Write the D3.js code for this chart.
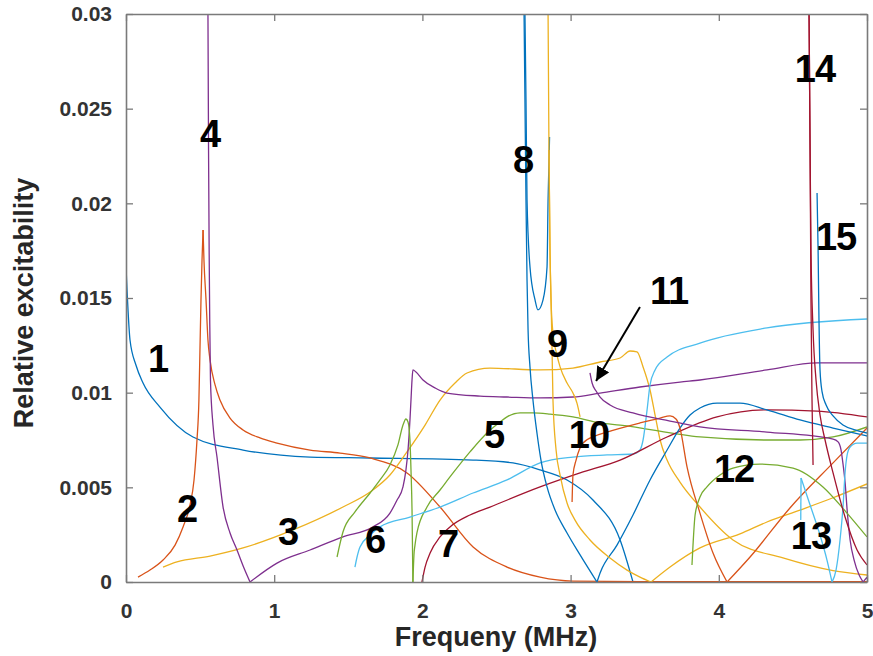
<!DOCTYPE html>
<html><head><meta charset="utf-8">
<script src="https://cdn.jsdelivr.net/npm/d3@7"></script>
<style>
html,body{margin:0;padding:0;background:#fff;}
svg{display:block;font-family:"Liberation Sans",Arial,sans-serif;}
</style></head>
<body><svg id="chart" width="873" height="656"></svg>
<script>
// ---------- data (x in MHz, y relative excitability) ----------
const xTicks = [0,1,2,3,4,5];
const xTickLabels = ["0","1","2","3","4","5"];
const yTicks = [0,0.005,0.01,0.015,0.02,0.025,0.03];
const yTickLabels = ["0","0.005","0.01","0.015","0.02","0.025","0.03"];

const mode1 = [[0,0.01664],[0.007,0.01542],[0.027,0.01278],[0.067,0.01146],[0.115,0.01051],[0.229,0.00924],[0.452,0.00766],[0.790,0.00697],[1.242,0.00660],[1.647,0.00655],[2.342,0.00644],[2.611,0.00629],[2.794,0.00592],[2.976,0.00539],[3.151,0.00433],[3.334,0.00222],[3.421,0]];
const mode2a = [[0.081,0.00026],[0.162,0.00063],[0.250,0.00116],[0.331,0.00195],[0.385,0.00291],[0.432,0.00407],[0.459,0.00539],[0.479,0.00750],[0.492,0.00961],[0.499,0.01225],[0.506,0.01490],[0.513,0.01701],[0.520,0.01859]];
const mode2b = [[0.520,0.01859],[0.526,0.01701],[0.540,0.01490],[0.553,0.01278],[0.567,0.01173],[0.601,0.01041],[0.634,0.00961],[0.702,0.00866],[0.790,0.00803],[0.904,0.00761],[1.019,0.00734],[1.242,0.00697],[1.444,0.00681],[1.647,0.00655],[1.896,0.00576],[2.119,0.00396],[2.342,0.00185],[2.571,0.00079],[2.794,0.00026],[3.016,0.00005],[3.468,0.00002],[5.0,0.00002]];
const mode3 = [[0.250,0.00079],[0.344,0.00106],[0.567,0.00137],[0.790,0.00180],[1.127,0.00275],[1.464,0.00396],[1.647,0.00475],[1.781,0.00565],[1.896,0.00687],[2.018,0.00829],[2.119,0.00961],[2.220,0.01051],[2.301,0.01104],[2.456,0.01130],[2.794,0.01120],[3.016,0.01130],[3.199,0.01162],[3.334,0.01183],[3.401,0.01220],[3.448,0.01215],[3.489,0.01136],[3.536,0.01014],[3.570,0.00882],[3.604,0.00750],[3.651,0.00644],[3.738,0.00528],[3.873,0.00396],[4.096,0.00222],[4.433,0.00127],[4.771,0.00060],[5.0,0.00037]];
const mode4a = [[0.553,0.03],[0.557,0.02282],[0.561,0.01754],[0.565,0.01384],[0.570,0.01067],[0.587,0.00829],[0.614,0.00660],[0.655,0.00396],[0.702,0.00259],[0.749,0.00169],[0.796,0.00074],[0.837,0]];
const mode4b = [[0.837,0],[1.019,0.00100],[1.242,0.00169],[1.464,0.00238],[1.667,0.00291],[1.781,0.00364],[1.829,0.00433],[1.869,0.00502],[1.889,0.00592],[1.903,0.00697],[1.916,0.00856],[1.923,0.00961],[1.930,0.01067],[1.936,0.01120],[1.957,0.01109],[2.004,0.01067],[2.085,0.01025],[2.166,0.00998],[2.389,0.00982],[2.571,0.00977],[2.794,0.00972],[3.016,0.00977],[3.199,0.00998],[3.468,0.01030],[3.738,0.01056],[3.873,0.01067],[4.325,0.01120],[4.663,0.01157],[5.0,0.01157]];
const mode5a = [[1.424,0.00132],[1.464,0.00264],[1.545,0.00370],[1.647,0.00470],[1.714,0.00539],[1.781,0.00618],[1.835,0.00724],[1.869,0.00829],[1.889,0.00861],[1.903,0.00845],[1.916,0.00750],[1.923,0.00592],[1.930,0.00380],[1.936,0]];
const mode5b = [[1.936,0],[1.943,0.00143],[1.950,0.00195],[1.963,0.00259],[2.031,0.00396],[2.119,0.00486],[2.207,0.00576],[2.321,0.00687],[2.436,0.00787],[2.524,0.00845],[2.571,0.00872],[2.659,0.00893],[2.746,0.00893],[2.861,0.00887],[3.016,0.00872],[3.199,0.00840],[3.334,0.00829],[3.873,0.00766],[4.325,0.00750],[4.548,0.00750],[4.771,0.00766],[5.0,0.00819]];
const mode6 = [[1.545,0.00079],[1.559,0.00132],[1.579,0.00185],[1.647,0.00248],[1.714,0.00291],[1.916,0.00343],[2.119,0.00396],[2.342,0.00470],[2.571,0.00539],[2.794,0.00629],[3.016,0.00660],[3.246,0.00671],[3.421,0.00676],[3.468,0.00697],[3.489,0.00750],[3.516,0.00909],[3.536,0.01041],[3.570,0.01120],[3.651,0.01188],[3.873,0.01262],[4.325,0.01342],[5.0,0.01389]];
const mode7 = [[1.997,0],[2.018,0.00079],[2.052,0.00153],[2.119,0.00238],[2.186,0.00291],[2.321,0.00354],[2.456,0.00396],[2.794,0.00502],[3.064,0.00576],[3.334,0.00644],[3.651,0.00766],[3.988,0.00872],[4.325,0.00909],[4.663,0.00903],[5.0,0.00872]];
const mode8a = [[2.686,0.03],[2.692,0.02546],[2.699,0.02018],[2.706,0.01595],[2.713,0.01331],[2.726,0.01136],[2.746,0.00961],[2.773,0.00787],[2.800,0.00644],[2.841,0.00502],[2.895,0.00380],[2.976,0.00259],[3.064,0.00143],[3.178,0]];
const mode8b = [[3.178,0],[3.199,0.00048],[3.313,0.00195],[3.421,0.00354],[3.536,0.00539],[3.651,0.00697],[3.738,0.00813],[3.806,0.00882],[3.873,0.00919],[3.988,0.00945],[4.143,0.00945],[4.325,0.00909],[4.548,0.00856],[4.771,0.00813],[5.0,0.00771]];
const mode8u = [[2.692,0.03],[2.699,0.02546],[2.706,0.02018],[2.726,0.01664],[2.760,0.01490],[2.780,0.01437],[2.814,0.01490],[2.841,0.01664],[2.848,0.02018],[2.858,0.02350]];
const mode9a = [[2.848,0.03],[2.854,0.02282],[2.861,0.01754],[2.868,0.01490],[2.875,0.01225],[2.881,0.00961],[2.902,0.00697],[2.929,0.00565],[2.976,0.00417],[3.030,0.00327],[3.131,0.00222],[3.266,0.00127],[3.381,0.00063],[3.468,0.00026],[3.543,0]];
const mode9b = [[3.543,0],[3.671,0.00079],[3.873,0.00180],[4.143,0.00254],[4.325,0.00317],[4.548,0.00380],[4.771,0.00445],[5.0,0.00518]];
const mode9c = [[2.854,0.02282],[2.861,0.01754],[2.868,0.01490],[2.881,0.01315],[2.908,0.01199],[2.929,0.01136],[2.976,0.01051],[3.016,0.00998],[3.043,0.00945],[3.064,0.00872]];
const mode10a = [[3.010,0.00423],[3.016,0.00565],[3.037,0.00644],[3.084,0.00734],[3.165,0.00771],[3.246,0.00792],[3.468,0.00840],[3.604,0.00866],[3.671,0.00877],[3.711,0.00861],[3.738,0.00813],[3.786,0.00607],[3.873,0.00364],[3.961,0.00153],[4.056,0]];
const mode10b = [[4.056,0],[4.211,0.00132],[4.480,0.00391],[4.771,0.00629],[5.0,0.00813]];
const mode11a = [[3.131,0.01104],[3.145,0.01051],[3.172,0.01009],[3.199,0.00977],[3.266,0.00935],[3.421,0.00893],[3.671,0.00850],[3.873,0.00819],[4.325,0.00792],[4.771,0.00755],[4.805,0.00740],[4.825,0.00697],[4.839,0.00618],[4.852,0.00528],[4.866,0.00380],[4.886,0.00222],[4.913,0.00116],[4.947,0.00037],[4.974,0]];
const mode11b = [[4.974,0],[5.0,0.00026]];
const mode12 = [[3.819,0.00090],[3.826,0.00195],[3.840,0.00354],[3.873,0.00449],[3.920,0.00502],[4.008,0.00565],[4.096,0.00602],[4.278,0.00623],[4.501,0.00602],[4.703,0.00502],[4.865,0.00364],[5.0,0.00238]];
const mode13a = [[4.553,0.00327],[4.555,0.00549]];
const mode13b = [[4.555,0.00549],[4.616,0.00407],[4.683,0.00248],[4.730,0.00116],[4.764,0]];
const mode13c = [[4.764,0],[4.791,0.00063],[4.818,0.00222],[4.839,0.00407],[4.852,0.00576],[4.866,0.00671],[4.886,0.00713],[4.933,0.00734],[5.0,0.00734]];
const mode14a = [[4.609,0.03],[4.616,0.02282],[4.622,0.01490],[4.629,0.00961],[4.636,0.00618]];
const mode14b = [[4.609,0.03],[4.616,0.02282],[4.622,0.01754],[4.636,0.01331],[4.656,0.01067],[4.683,0.00882],[4.717,0.00750],[4.771,0.00576],[4.852,0.00343],[4.933,0.00169],[5.0,0.00090]];
const mode15 = [[4.663,0.02055],[4.670,0.01754],[4.676,0.01384],[4.683,0.01120],[4.697,0.01004],[4.724,0.00935],[4.771,0.00877],[4.838,0.00829],[4.919,0.00803],[5.0,0.00787]];

const modeLabels = ["1","2","3","4","5","6","7","8","9","10","11","12","13","14","15"];
const labelX = [0.216,0.412,1.093,0.567,2.483,1.680,2.173,2.679,2.908,3.124,3.664,4.103,4.622,4.649,4.791];
const labelY = [0.01109,0.00317,0.00195,0.02298,0.00708,0.00153,0.00132,0.02160,0.01188,0.00708,0.01468,0.00528,0.00174,0.02641,0.01754];
const arrowFrom = [3.468,0.01453];
const arrowTo = [3.172,0.01062];

// ---------- styling ----------
const C = {blue:"#0072BD",orange:"#D95319",yellow:"#EDB120",purple:"#7E2F8E",green:"#77AC30",cyan:"#4DBEEE",red:"#A2142F"};
const series = [
  [mode1,C.blue],[mode2a,C.orange],[mode2b,C.orange],[mode3,C.yellow],
  [mode4a,C.purple],[mode4b,C.purple],[mode5a,C.green],[mode5b,C.green],
  [mode6,C.cyan],[mode7,C.red],[mode8a,C.blue],[mode8b,C.blue],[mode8u,C.blue],
  [mode9a,C.yellow],[mode9b,C.yellow],[mode9c,C.yellow],[mode10a,C.orange],[mode10b,C.orange],
  [mode11a,C.purple],[mode11b,C.purple],[mode12,C.green],[mode13a,C.cyan],[mode13b,C.cyan],[mode13c,C.cyan],
  [mode14a,C.red],[mode14b,C.red],[mode15,C.blue]
];

const svg = d3.select("#chart");
const m = {left:126,right:867,top:14,bottom:582};
const x = d3.scaleLinear().domain([0,5]).range([m.left,m.right]);
const y = d3.scaleLinear().domain([0,0.03]).range([m.bottom,m.top]);

svg.append("defs").append("clipPath").attr("id","clip")
  .append("rect").attr("x",m.left).attr("y",m.top).attr("width",m.right-m.left).attr("height",m.bottom-m.top);
svg.select("defs").append("marker").attr("id","ah").attr("viewBox","0 0 10 10")
  .attr("refX",10).attr("refY",5).attr("markerWidth",7).attr("markerHeight",7).attr("orient","auto")
  .append("path").attr("d","M0,0 L10,5 L0,10 z").attr("fill","#000");

const line = d3.line().x(d=>x(d[0])).y(d=>y(d[1])).curve(d3.curveMonotoneX);
const g = svg.append("g").attr("clip-path","url(#clip)");
series.forEach(([data,col])=>{
  g.append("path").datum(data).attr("d",line).attr("fill","none")
   .attr("stroke",col).attr("stroke-width",1.3).attr("stroke-linejoin","round");
});

// axes (box with inward ticks)
const axCol = "#7a7a7a";
function styleAxis(sel){
  sel.select(".domain").attr("stroke",axCol).attr("stroke-width",1.6);
  sel.selectAll(".tick line").attr("stroke",axCol).attr("stroke-width",1.3);
  sel.selectAll("text").attr("fill","#333").attr("font-weight","bold").attr("font-size",21)
     .attr("font-family","'Liberation Sans',Arial,sans-serif");
}
svg.append("g").attr("transform",`translate(0,${m.bottom})`)
  .call(d3.axisBottom(x).tickValues(xTicks).tickFormat((d,i)=>xTickLabels[i]).tickSizeInner(-7).tickSizeOuter(0).tickPadding(21))
  .call(styleAxis);
svg.append("g").attr("transform",`translate(${m.left},0)`)
  .call(d3.axisLeft(y).tickValues(yTicks).tickFormat((d,i)=>yTickLabels[i]).tickSizeInner(-7).tickSizeOuter(0).tickPadding(14))
  .call(styleAxis);
svg.append("g").attr("transform",`translate(0,${m.top})`)
  .call(d3.axisTop(x).tickValues(xTicks).tickFormat("").tickSizeInner(-7).tickSizeOuter(0))
  .call(styleAxis);
svg.append("g").attr("transform",`translate(${m.right},0)`)
  .call(d3.axisRight(y).tickValues(yTicks).tickFormat("").tickSizeInner(-7).tickSizeOuter(0))
  .call(styleAxis);

// axis titles
svg.append("text").attr("x",496).attr("y",646).attr("text-anchor","middle")
  .attr("font-size",27).attr("font-weight","bold").attr("fill","#262626").text("Frequeny (MHz)");
svg.append("text").attr("transform","translate(33,303) rotate(-90)").attr("text-anchor","middle")
  .attr("font-size",27).attr("font-weight","bold").attr("fill","#262626").text("Relative excitability");

// mode labels
modeLabels.forEach((t,i)=>{
  svg.append("text").attr("x",x(labelX[i])).attr("y",y(labelY[i])).attr("text-anchor","middle")
    .attr("font-size",38).attr("font-weight","bold").attr("fill","#000").attr("letter-spacing",-1).text(t);
});
// arrow for mode 11
svg.append("line").attr("x1",x(arrowFrom[0])).attr("y1",y(arrowFrom[1]))
  .attr("x2",x(arrowTo[0])).attr("y2",y(arrowTo[1]))
  .attr("stroke","#000").attr("stroke-width",2).attr("marker-end","url(#ah)");
</script></body></html>
